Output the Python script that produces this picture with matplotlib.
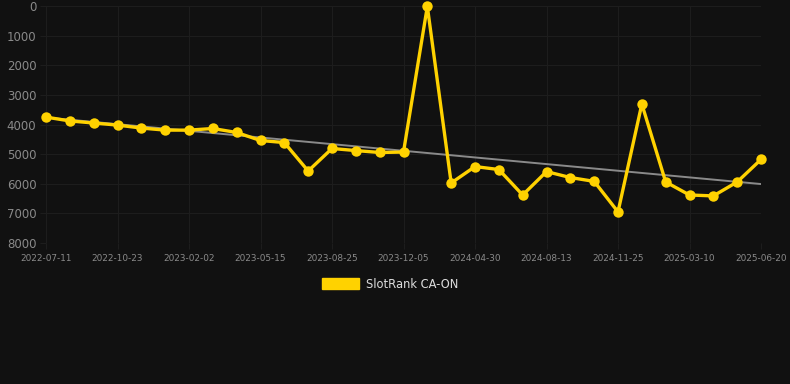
import matplotlib
matplotlib.use("Agg")
import matplotlib.pyplot as plt
import numpy as np

# Dates of the samples (category axis, every 3rd labelled)
dates = [
    "2022-07-11", "2022-08-04", "2022-08-28", "2022-10-23", "2022-11-16",
    "2022-12-10", "2023-02-02", "2023-02-26", "2023-03-22", "2023-05-15",
    "2023-06-08", "2023-07-02", "2023-08-25", "2023-09-18", "2023-10-12",
    "2023-12-05", "2024-01-20", "2024-03-15", "2024-04-30", "2024-05-30",
    "2024-06-30", "2024-08-13", "2024-09-10", "2024-10-15", "2024-11-25",
    "2024-12-20", "2025-01-30", "2025-03-10", "2025-04-10", "2025-05-15",
    "2025-06-20",
]
ranks = [
    3750, 3880, 3950, 4020, 4120, 4190, 4190, 4135, 4270, 4540,
    4610, 5570, 4810, 4880, 4945, 4930, 15, 5975, 5420, 5520,
    6380, 5590, 5790, 5920, 6950, 3310, 5940, 6380, 6410, 5940,
    5180,
]
series_name = "SlotRank CA-ON"

bg = "#111111"
gold = "#FFD200"

fig = plt.figure(figsize=(7.9, 3.84), dpi=100, facecolor=bg)
ax = fig.add_axes([46 / 790, 1 - 243 / 384, (761 - 46) / 790, (243 - 6) / 384])
ax.set_facecolor(bg)

x = np.arange(len(ranks))

# linear trend of the series
k, b = np.polyfit(x, ranks, 1)
ax.plot([x[0], x[-1]], [b, k * x[-1] + b], color="#8a8a8a", lw=1.4, zorder=2)

ax.plot(x, ranks, color=gold, lw=2.4, marker="o", ms=7.5,
        markeredgewidth=0, zorder=3, clip_on=False, label=series_name)

ax.set_xlim(0, len(ranks) - 1)
ax.set_ylim(8000, 0)
ax.set_yticks(range(0, 8001, 1000))
ax.set_xticks(x[::3])
ax.set_xticklabels(dates[::3])

ax.grid(True, color="#1d1d1d", lw=0.8)
for s in ax.spines.values():
    s.set_visible(False)
ax.tick_params(axis="y", colors="#1d1d1d", labelcolor="#8a8a8a",
               labelsize=8.5, length=4, pad=3)
ax.tick_params(axis="x", colors="#1d1d1d", labelcolor="#8a8a8a",
               labelsize=6.4, length=4, pad=4)

leg = fig.legend(handles=[plt.Rectangle((0, 0), 1, 1, color=gold)],
                 labels=[series_name], loc="center",
                 bbox_to_anchor=(390 / 790, 1 - 284 / 384), frameon=False,
                 handlelength=3.2, handleheight=1.0, fontsize=8.3,
                 labelcolor="#dddddd", handletextpad=0.6)

fig.savefig("out.png", dpi=100, facecolor=bg)
